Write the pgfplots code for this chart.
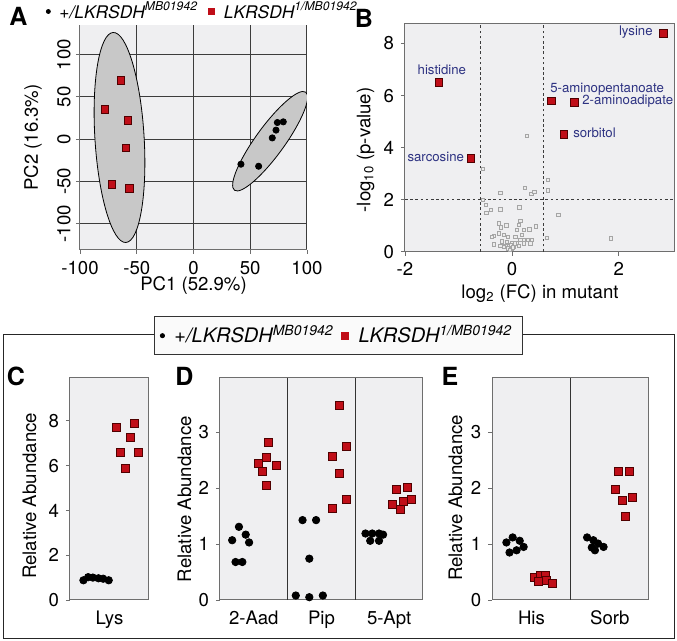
\documentclass[border=0pt]{standalone}
\usepackage{pgfplots}
\pgfplotsset{compat=1.18}
\usepackage{fontspec}
\setmainfont{TeX Gyre Heros}
\definecolor{bgc}{RGB}{239,239,241}
\definecolor{ellc}{RGB}{200,200,200}
\definecolor{redc}{RGB}{192,14,24}
\definecolor{redd}{RGB}{80,0,0}
\definecolor{gridc}{RGB}{60,60,60}
\definecolor{axc}{RGB}{110,110,110}
\definecolor{navy}{RGB}{45,50,130}
\definecolor{greye}{RGB}{165,165,165}
\definecolor{greyf}{RGB}{236,236,236}
\pgfplotsset{
  myaxis/.style={
    scale only axis, anchor=south west,
    axis background/.style={fill=bgc},
    tick label style={font=\fontsize{9.3}{10}\selectfont},
    label style={font=\fontsize{9.3}{10}\selectfont},
    /pgf/number format/assume math mode=true,
    tick align=outside,
    major tick style={draw=axc, line width=0.4pt},
    major tick length=2pt,
    axis line style={draw=axc, line width=0.5pt},
    xtick pos=bottom, ytick pos=left,
  },
  blk/.style={only marks, mark=*, mark size=#1, mark options={fill=black, draw=black}},
  rsq/.style={only marks, mark=square*, mark size=#1, mark options={fill=redc, draw=redd, line width=0.3pt}},
  dotplot/.style={myaxis, width=#1, height=111.15pt, ymin=0, ytick={0,1,2,3}, ymax=3.98,
    major x tick style={draw=none}, clip=false,
    ylabel={Relative Abundance}},
}
\begin{document}
\begin{tikzpicture}
\useasboundingbox (0,0) rectangle (338.5pt,320.5pt);
\draw[draw=black!85, line width=0.5pt] (1.5pt,1pt) rectangle (337.2pt,153.35pt);
% panel letters
\node[font=\fontsize{12.5}{13}\bfseries] at (9.25pt,312.5pt) {A};
\node[font=\fontsize{12.5}{13}\bfseries] at (182pt,311.2pt) {B};
\node[font=\fontsize{12.5}{13}\bfseries] at (8pt,132.3pt) {C};
\node[font=\fontsize{12.5}{13}\bfseries] at (92.2pt,132.3pt) {D};
\node[font=\fontsize{12.5}{13}\bfseries] at (225pt,132.3pt) {E};

% ---------------- Panel A
\begin{axis}[myaxis, at={(40pt,195.5pt)}, width=113.5pt, height=112.5pt,
  xmin=-100, xmax=100, ymin=-131, ymax=135,
  xtick={-100,-50,0,50,100}, ytick={-100,-50,0,50,100},
  grid=major, grid style={draw=gridc, line width=0.5pt},
  axis x line*=bottom, axis y line*=left, axis line style={-},
  yticklabel style={rotate=90, anchor=south, inner sep=0pt},
  yticklabel shift=2.5pt,
  clip mode=individual,
  legend columns=2,
  legend style={at={(axis description cs:-0.15,1.06)}, anchor=west, draw=none, fill=none,
    inner sep=0pt, font=\fontsize{8.7}{10}\selectfont\itshape,
    /tikz/every odd column/.append style={column sep=2.5pt},
    /tikz/every even column/.append style={column sep=3pt}},
  legend cell align=left,
]
\addlegendimage{only marks, mark=*, mark size=1.0pt, black}
\addlegendentry{+/LKRSDH\textsuperscript{MB01942}}
\addlegendimage{only marks, mark=square*, mark size=1.7pt, redc}
\addlegendentry{LKRSDH\textsuperscript{1/MB01942}}
\begin{scope}
\clip (rel axis cs:0,0) rectangle (rel axis cs:1,1);
\draw[fill=ellc, draw=black, line width=0.4pt, rotate around={3.5:(axis cs:-65.2,2)}] (axis cs:-65.2,2) ellipse [x radius=12.3pt, y radius=52.6pt];
\draw[fill=ellc, draw=black, line width=0.4pt, rotate around={54:(axis cs:67.5,-2.4)}] (axis cs:67.5,-2.4) ellipse [x radius=30.3pt, y radius=7.2pt];
\end{scope}
\addplot[rsq=1.9pt, forget plot] coordinates {(-63.9,69.8) (-78,35) (-58,22.5) (-59.7,-10.3) (-72,-53.6) (-56.8,-58.4)};
\addplot[blk=1.55pt, forget plot] coordinates {(41.8,-29.6) (57.4,-32) (69.4,1.5) (72.7,10.7) (73.9,19.7) (79.1,20.5)};
\node[font=\fontsize{9.3}{10}\selectfont, anchor=center] at (axis description cs:0.5,-0.156) {PC1 (52.9\%)};
\node[font=\fontsize{9.3}{10}\selectfont, anchor=center, rotate=90] at (axis description cs:-0.207,0.5) {PC2 (16.3\%)};
\end{axis}

% ---------------- Panel B
\begin{axis}[myaxis, at={(202.5pt,194.65pt)}, width=135pt, height=113.85pt,
  xmin=-2, xmax=3.05, ymin=0, ymax=8.75,
  xtick={-2,0,2}, ytick={0,2,4,6,8},
  clip mode=individual,
]
\draw[gridc, line width=0.45pt, dash pattern=on 1.3pt off 1.3pt] (axis cs:-0.585,0) -- (axis cs:-0.585,8.75);
\draw[gridc, line width=0.45pt, dash pattern=on 1.3pt off 1.3pt] (axis cs:0.585,0) -- (axis cs:0.585,8.75);
\draw[gridc, line width=0.45pt, dash pattern=on 1.3pt off 1.3pt] (axis cs:-2,2) -- (axis cs:3.05,2);
\addplot[only marks, mark=square*, mark size=0.85pt, mark options={fill=greyf, draw=greye, line width=0.35pt}] coordinates {
(0.28,4.45) (-0.54,3.18) (0.67,2.76) (0.67,2.35) (-0.22,2.26) (0.24,2.46) (0.36,2.22) (0.42,2.30)
(-0.54,1.99) (-0.49,1.81) (-0.39,1.60) (-0.48,1.50) (-0.22,1.63) (0.14,1.71) (0.87,1.42) (1.85,0.52)
(-0.249,1.09) (-0.106,1.01) (-0.206,0.94) (0.156,1.19) (0.124,1.03) (0.448,0.98) (0.324,0.86) (0.218,0.83)
(0.093,0.83) (-0.343,0.60) (-0.374,0.58) (-0.249,0.71) (-0.156,0.64) (-0.075,0.58) (0.062,0.58) (0.187,0.64)
(0.293,0.45) (0.374,0.45) (0.218,0.45) (0.156,0.45) (-0.187,0.39) (-0.094,0.37) (0.0,0.32) (0.093,0.32)
(-0.343,0.28) (-0.218,0.23) (-0.125,0.22) (-0.063,0.22) (-0.019,0.26) (0.031,0.19) (-0.081,0.13) (0.0,0.13)
(-0.044,0.07) (0.05,0.32) (0.654,0.53) (0.343,0.32) (0.218,0.32) (0.124,0.22) (-0.156,0.19) (0.018,0.17)
};
\addplot[rsq=1.9pt] coordinates {(2.83,8.4) (-1.37,6.5) (0.74,5.8) (1.17,5.75) (0.97,4.5) (-0.77,3.6)};
\begin{scope}[every node/.style={text=navy, font=\fontsize{6.6}{7}\selectfont, inner sep=0pt}]
\node[anchor=east] at (axis cs:2.64,8.42) {lysine};
\node[anchor=center] at (axis cs:-1.31,6.98) {histidine};
\node[anchor=center] at (axis cs:1.78,6.25) {5-aminopentanoate};
\node[anchor=west] at (axis cs:1.31,5.77) {2-aminoadipate};
\node[anchor=west] at (axis cs:1.14,4.55) {sorbitol};
\node[anchor=east] at (axis cs:-0.89,3.65) {sarcosine};
\end{scope}
\node[font=\fontsize{9.3}{10}\selectfont, anchor=center] at (axis description cs:0.5,-0.185) {log\textsubscript{2} (FC) in mutant};
\node[font=\fontsize{9.3}{10}\selectfont, anchor=center, rotate=90] at (axis description cs:-0.146,0.447) {-log\textsubscript{10} (p-value)};
\end{axis}

% ---------------- Panel C
\begin{axis}[dotplot=39.5pt, at={(35pt,20.5pt)},
  xmin=-0.5, xmax=0.5, ymax=9.93, ytick={0,2,4,6,8},
  xtick={0}, xticklabels={Lys},
  ylabel style={at={(axis description cs:-0.513,0.468)}, anchor=center},
]
\addplot[blk=1.85pt] coordinates {(-0.33,0.88) (-0.27,1.02) (-0.21,1.0) (-0.14,0.97) (-0.08,0.95) (-0.01,0.88)};
\addplot[rsq=2pt] coordinates {(0.08,7.72) (0.31,7.89) (0.26,7.25) (0.14,6.58) (0.37,6.6) (0.20,5.87)};
\end{axis}

% ---------------- Panel D
\begin{axis}[dotplot=101.5pt, at={(110pt,20.5pt)},
  xmin=-0.5, xmax=2.5,
  xtick={0,1,2}, xticklabels={2-Aad,Pip,5-Apt},
  ylabel style={at={(axis description cs:-0.175,0.454)}, anchor=center},
  legend columns=2,
  legend style={at={(axis description cs:0.583,1.189)}, anchor=center, draw=black!80, fill=black!2,
    line width=0.5pt, inner xsep=3pt, inner ysep=2.5pt, font=\fontsize{10}{11}\selectfont\itshape,
    /tikz/every odd column/.append style={column sep=3pt},
    /tikz/every even column/.append style={column sep=2pt}},
  legend cell align=left,
]
\addlegendimage{only marks, mark=*, mark size=1.0pt, black}
\addlegendentry{+/LKRSDH\textsuperscript{MB01942}}
\addlegendimage{only marks, mark=square*, mark size=1.7pt, redc}
\addlegendentry{LKRSDH\textsuperscript{1/MB01942}}
\draw[black!80, line width=0.4pt] (axis cs:0.5,0) -- (axis cs:0.5,3.98);
\draw[black!80, line width=0.4pt] (axis cs:1.5,0) -- (axis cs:1.5,3.98);
\addplot[blk=1.85pt, forget plot] coordinates {(-0.32,1.07) (-0.22,1.31) (-0.12,1.17) (-0.07,1.03) (-0.27,0.68) (-0.17,0.68)
 (0.72,1.43) (0.92,1.43) (0.82,0.74) (0.62,0.08) (0.82,0.05) (1.02,0.08)
 (1.65,1.19) (1.75,1.19) (1.85,1.19) (1.91,1.17) (1.72,1.06) (1.85,1.06)};
\addplot[rsq=2pt, forget plot] coordinates {(0.22,2.83) (0.18,2.55) (0.07,2.44) (0.12,2.31) (0.33,2.41) (0.19,2.05)
 (1.26,3.48) (1.16,2.58) (1.36,2.75) (1.26,2.27) (1.16,1.64) (1.36,1.80)
 (2.11,1.99) (2.27,2.01) (2.05,1.71) (2.21,1.76) (2.32,1.80) (2.16,1.63)};
\end{axis}

% ---------------- Panel E
\begin{axis}[dotplot=78.35pt, at={(246.15pt,20.5pt)},
  xmin=-0.5, xmax=1.5,
  xtick={0,1}, xticklabels={His,Sorb},
  ylabel style={at={(axis description cs:-0.235,0.46)}, anchor=center},
]
\draw[black!80, line width=0.4pt] (axis cs:0.5,0) -- (axis cs:0.5,3.98);
\addplot[blk=1.85pt] coordinates {(-0.32,1.03) (-0.24,1.12) (-0.15,1.06) (-0.10,0.95) (-0.19,0.89) (-0.28,0.85)
 (0.71,1.12) (0.79,1.07) (0.85,1.01) (0.92,0.95) (0.81,0.89) (0.77,0.94)};
\addplot[rsq=2pt] coordinates {(0.03,0.41) (0.11,0.44) (0.18,0.44) (0.09,0.33) (0.19,0.35) (0.26,0.30)
 (1.11,2.30) (1.25,2.30) (1.07,1.98) (1.29,1.84) (1.16,1.79) (1.20,1.49)};
\end{axis}
\end{tikzpicture}
\end{document}
